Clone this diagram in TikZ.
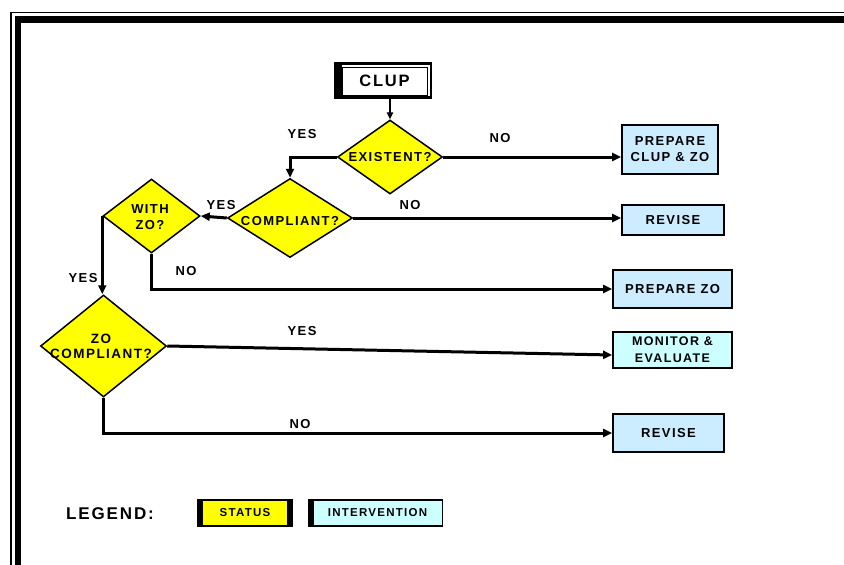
\documentclass[tikz,border=0pt]{standalone}
\usepackage{fontspec}
\newfontfamily\flowfont{Liberation Sans}[LetterSpace=11]
\usetikzlibrary{shapes.geometric,arrows.meta,calc}
\definecolor{statusyellow}{RGB}{255,255,0}
\definecolor{actblue}{RGB}{204,236,255}
\definecolor{actcyan}{RGB}{204,255,255}

\begin{document}
\begin{tikzpicture}[x=1pt,y=-1pt,
  every node/.style={inner sep=0pt, font=\flowfont\bfseries\fontsize{13}{16}\selectfont},
  decision/.style={diamond, draw, fill=statusyellow, line width=1.5pt, inner sep=0pt},
  action/.style={draw, fill=actblue, line width=1.7pt, align=center},
  dtext/.style={align=center},
  flowlabel/.style={},
  flow/.style={line width=3pt, -{Triangle[length=9pt,width=8pt]}},
  thinflow/.style={line width=1.2pt, -{Triangle[length=7pt,width=6.5pt]}},
  legendtext/.style={font=\flowfont\bfseries\fontsize{11.5}{14}\selectfont}
]
\useasboundingbox (0,0) rectangle (844,565);

% page frame: thin outer rule and heavy inner rule
\draw[line width=1.8pt] (11,570) -- (11,12.5) -- (850,12.5);
\draw[line width=6.5pt] (17.75,570) -- (17.75,19.5) -- (850,19.5);

% start box with heavy frame
\node[fill=black, minimum width=98, minimum height=37] (clupframe) at (383,80.5) {};
\fill[white] (342,64.5) rectangle (430,96);
\node[draw, line width=1pt, fill=white, minimum width=85, minimum height=28,
      font=\flowfont\bfseries\fontsize{16.5}{18}\selectfont] (clup) at (384.5,81) {CLUP};

% decisions
\node[decision, minimum width=105, minimum height=74] (ex) at (390,157) {};
\node[dtext] (ex-t) at (390,157) {EXISTENT?};
\node[decision, minimum width=125, minimum height=79] (cp) at (290,218) {};
\node[dtext] (cp-t) at (290,221) {COMPLIANT?};
\node[decision, minimum width=97, minimum height=74] (wz) at (151.5,216) {};
\node[dtext] (wz-t) at (150,217) {WITH\\ZO?};
\node[decision, minimum width=126, minimum height=102] (zo) at (103.5,346) {};
\node[dtext, font=\flowfont\bfseries\fontsize{13.5}{15}\selectfont] (zo-t) at (101,346) {ZO\\COMPLIANT?};

% interventions
\node[action, minimum width=96, minimum height=49] (pcz) at (670,149.5) {PREPARE\\CLUP \& ZO};
\node[action, minimum width=102, minimum height=30] (rev1) at (673,220) {REVISE};
\node[action, minimum width=119, minimum height=38] (pz) at (672.5,289) {PREPARE ZO};
\node[action, fill=actcyan, minimum width=119, minimum height=36,
      font=\flowfont\bfseries\fontsize{12.5}{17}\selectfont] (mon) at (672.5,350) {MONITOR \&\\EVALUATE};
\node[action, minimum width=111, minimum height=38] (rev2) at (668.5,433) {REVISE};

% connectors
\draw[thinflow] (ex.north |- clupframe.south) -- (ex.north);
\draw[flow] (ex.west) -| (cp.north);
\draw[flow] (ex.east) -- (ex.east -| pcz.west);
\draw[flow] (cp.east) -- (cp.east -| rev1.west);
\draw[flow] (cp.west) -- (wz.east);
\draw[flow] (wz.west) -- (wz.west |- zo.north);
\draw[flow] (wz.south) |- (pz.west);
\draw[flow] (zo.east) -- ($(mon.west)+(0,5)$);
\draw[flow] (zo.south) |- (rev2.west);

% branch labels
\node[flowlabel] (l-ex-yes) at (302,134) {YES};
\node[flowlabel] (l-ex-no) at (500,138) {NO};
\node[flowlabel] (l-cp-no) at (410,205) {NO};
\node[flowlabel] (l-cp-yes) at (221,205) {YES};
\node[flowlabel] (l-wz-yes) at (83,278) {YES};
\node[flowlabel] (l-wz-no) at (186,271) {NO};
\node[flowlabel] (l-zo-yes) at (302,331) {YES};
\node[flowlabel] (l-zo-no) at (300,424) {NO};

% legend
\node[font=\flowfont\bfseries\fontsize{17}{20}\selectfont] (legend) at (110,514) {LEGEND:};
\node[fill=black, minimum width=96, minimum height=28] (lg-status) at (245,513) {};
\fill[statusyellow] (203,501) rectangle (287,524.5);
\node[legendtext] (lg-status-t) at (245,512.5) {STATUS};
\node[fill=black, minimum width=135, minimum height=28] (lg-int) at (375.5,513) {};
\fill[actcyan] (314,501) rectangle (441.5,524.5);
\node[legendtext] (lg-int-t) at (377.5,512.5) {INTERVENTION};
\end{tikzpicture}
\end{document}
